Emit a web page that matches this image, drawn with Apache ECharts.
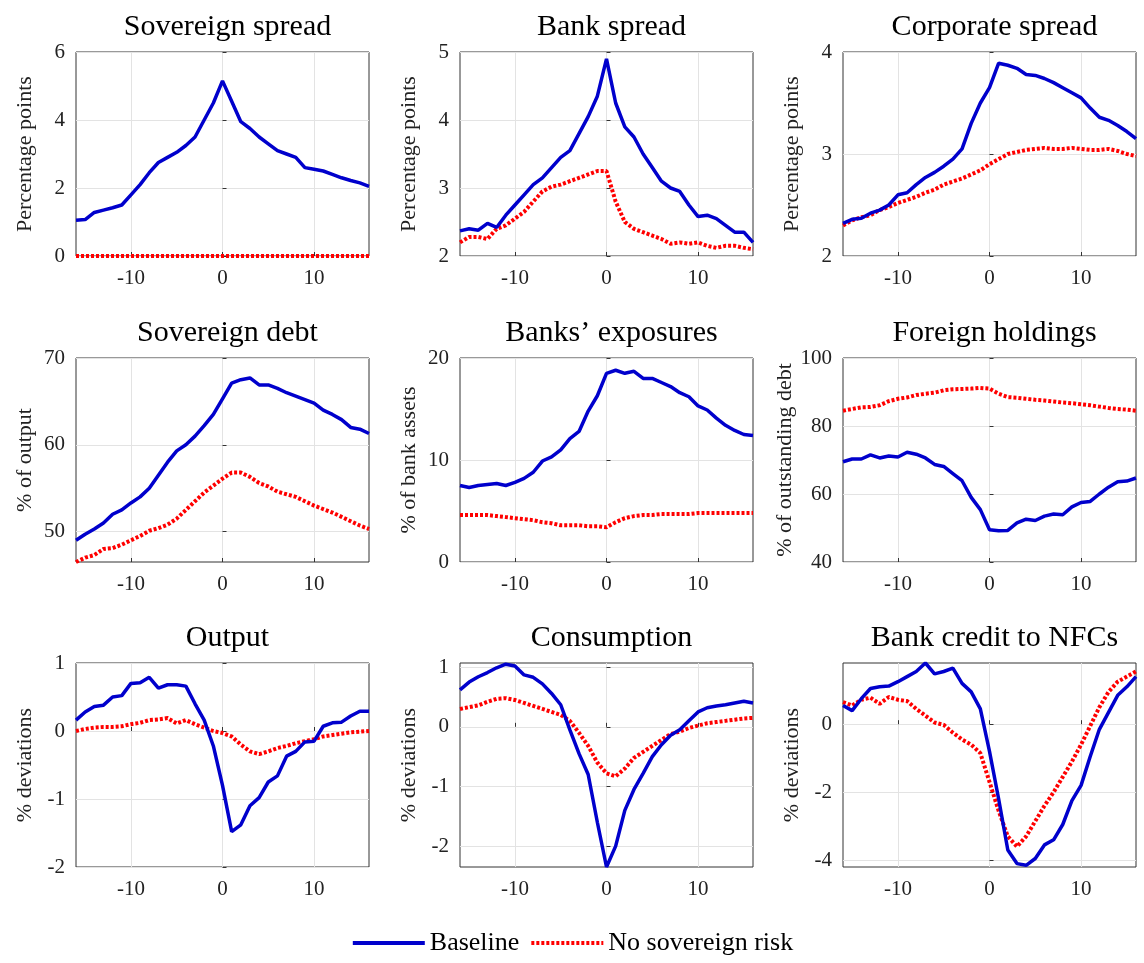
<!DOCTYPE html>
<html>
<head>
<meta charset="utf-8">
<script src="https://cdn.jsdelivr.net/npm/echarts@6/dist/echarts.min.js"></script>
<style>body{margin:0;padding:0;background:#fff}#main{width:1144px;height:963px}</style>
</head>
<body>
<div id="main"></div>
<script>
const horizon = [];
for (let t = -16; t <= 16; t++) horizon.push(t);

const titles = ['Sovereign spread', 'Bank spread', 'Corporate spread', 'Sovereign debt', 'Banks\u2019 exposures', 'Foreign holdings', 'Output', 'Consumption', 'Bank credit to NFCs'];
const yNames = ['Percentage points', 'Percentage points', 'Percentage points', '% of output', '% of bank assets', '% of outstanding debt', '% deviations', '% deviations', '% deviations'];
const yMin = [0, 2, 2, 46.5, 0, 40, -2, -2.35, -4.2];
const yMax = [6, 5, 4, 70, 20, 100, 1, 1.07, 1.8];
const yTicks = [[0,2,4,6],[2,3,4,5],[2,3,4],[50,60,70],[0,10,20],[40,60,80,100],[-2,-1,0,1],[-2,-1,0,1],[-4,-2,0]];
const xTicks = [-10, 0, 10];

const sovSpreadBase = [1.05,1.07,1.28,1.35,1.42,1.5,1.8,2.1,2.45,2.75,2.9,3.05,3.25,3.5,4.0,4.5,5.15,4.55,3.95,3.75,3.5,3.3,3.1,3.0,2.9,2.6,2.55,2.5,2.4,2.3,2.22,2.15,2.05];
const sovSpreadNoRisk = [0,0,0,0,0,0,0,0,0,0,0,0,0,0,0,0,0,0,0,0,0,0,0,0,0,0,0,0,0,0,0,0,0];
const bankSpreadBase = [2.37,2.4,2.38,2.48,2.42,2.6,2.75,2.9,3.05,3.15,3.3,3.45,3.55,3.8,4.05,4.35,4.9,4.25,3.9,3.75,3.5,3.3,3.1,3.0,2.95,2.75,2.58,2.6,2.55,2.45,2.35,2.35,2.2];
const bankSpreadNoRisk = [2.2,2.28,2.28,2.25,2.4,2.45,2.55,2.65,2.8,2.95,3.02,3.05,3.1,3.15,3.2,3.25,3.25,2.8,2.5,2.4,2.35,2.3,2.25,2.18,2.2,2.18,2.2,2.15,2.12,2.15,2.15,2.12,2.1];
const corpSpreadBase = [2.32,2.36,2.37,2.42,2.45,2.5,2.6,2.62,2.7,2.77,2.82,2.88,2.95,3.05,3.3,3.5,3.65,3.89,3.87,3.84,3.78,3.77,3.74,3.7,3.65,3.6,3.55,3.45,3.36,3.33,3.28,3.22,3.15];
const corpSpreadNoRisk = [2.3,2.35,2.38,2.4,2.45,2.48,2.52,2.55,2.58,2.62,2.65,2.7,2.73,2.76,2.8,2.84,2.9,2.95,3.0,3.02,3.04,3.05,3.06,3.05,3.05,3.06,3.05,3.04,3.04,3.05,3.03,3.0,2.98];
const sovDebtBase = [49,49.7,50.3,51,52,52.5,53.3,54,55,56.5,58,59.3,60,61,62.2,63.5,65.3,67.1,67.5,67.7,66.9,66.9,66.5,66,65.6,65.2,64.8,64,63.5,62.9,62,61.8,61.3];
const sovDebtNoRisk = [46.5,47,47.3,48,48.1,48.5,49,49.5,50.1,50.4,50.8,51.5,52.5,53.5,54.5,55.3,56.1,56.8,56.8,56.3,55.6,55.2,54.6,54.3,54,53.5,53,52.6,52.2,51.7,51.2,50.7,50.3];
const exposuresBase = [7.5,7.3,7.5,7.6,7.7,7.5,7.8,8.2,8.8,9.9,10.3,11,12.1,12.8,14.8,16.3,18.5,18.8,18.5,18.7,18.0,18.0,17.6,17.2,16.6,16.2,15.3,14.9,14.1,13.4,12.9,12.5,12.4];
const exposuresNoRisk = [4.6,4.6,4.6,4.6,4.5,4.4,4.3,4.2,4.1,3.9,3.8,3.6,3.6,3.6,3.5,3.5,3.4,3.9,4.3,4.5,4.6,4.6,4.7,4.7,4.7,4.7,4.8,4.8,4.8,4.8,4.8,4.8,4.8];
const foreignBase = [69.5,70.3,70.3,71.5,70.6,71.2,70.9,72.3,71.7,70.6,68.7,68.1,66,63.9,59,55.4,49.5,49.2,49.3,51.5,52.6,52.2,53.5,54.1,53.9,56.2,57.5,57.8,60,62,63.6,63.8,64.7];
const foreignNoRisk = [84.5,85,85.5,85.6,86.1,87.3,88,88.4,89.1,89.5,89.8,90.5,90.8,90.9,91,91.2,91,89.5,88.5,88.3,88,87.7,87.5,87.2,86.9,86.7,86.4,86.1,85.7,85.3,85,84.8,84.5];
const outputBase = [0.16,0.28,0.36,0.38,0.5,0.52,0.7,0.71,0.79,0.63,0.68,0.68,0.66,0.4,0.16,-0.22,-0.8,-1.48,-1.38,-1.1,-0.98,-0.75,-0.66,-0.37,-0.3,-0.16,-0.15,0.07,0.12,0.13,0.22,0.29,0.29];
const outputNoRisk = [0,0.03,0.05,0.06,0.06,0.07,0.1,0.12,0.16,0.17,0.19,0.11,0.16,0.1,0.05,0,-0.03,-0.08,-0.2,-0.3,-0.34,-0.3,-0.25,-0.22,-0.18,-0.15,-0.12,-0.08,-0.06,-0.04,-0.02,-0.01,0];
const consBase = [0.62,0.75,0.84,0.91,0.99,1.05,1.02,0.87,0.83,0.72,0.56,0.37,-0.05,-0.45,-0.8,-1.6,-2.35,-2.0,-1.4,-1.05,-0.78,-0.5,-0.3,-0.14,-0.05,0.1,0.25,0.32,0.35,0.37,0.4,0.43,0.4];
const consNoRisk = [0.3,0.33,0.36,0.42,0.47,0.48,0.45,0.4,0.35,0.3,0.25,0.2,0.1,-0.1,-0.32,-0.6,-0.78,-0.83,-0.7,-0.52,-0.42,-0.32,-0.22,-0.12,-0.08,-0.02,0.02,0.06,0.08,0.1,0.12,0.14,0.15];
const creditBase = [0.55,0.4,0.75,1.05,1.1,1.12,1.25,1.4,1.55,1.8,1.48,1.55,1.65,1.2,0.95,0.45,-0.8,-2.2,-3.7,-4.1,-4.15,-3.95,-3.55,-3.4,-2.95,-2.25,-1.8,-0.95,-0.15,0.35,0.85,1.1,1.4];
const creditNoRisk = [0.65,0.55,0.72,0.78,0.6,0.8,0.72,0.68,0.45,0.25,0.05,-0.02,-0.25,-0.45,-0.6,-0.85,-1.7,-2.55,-3.3,-3.6,-3.3,-2.85,-2.4,-2.0,-1.55,-1.1,-0.6,-0.05,0.5,0.95,1.25,1.4,1.55];

const baseline = [sovSpreadBase, bankSpreadBase, corpSpreadBase, sovDebtBase, exposuresBase, foreignBase, outputBase, consBase, creditBase];
const noRisk = [sovSpreadNoRisk, bankSpreadNoRisk, corpSpreadNoRisk, sovDebtNoRisk, exposuresNoRisk, foreignNoRisk, outputNoRisk, consNoRisk, creditNoRisk];

const font = '"Liberation Serif", "DejaVu Serif", serif';
const colLeft = [76, 460, 843], plotW = 293;
const rowTop = [52, 358, 663], plotH = 204;

const grid = [], xAxis = [], yAxis = [], series = [], title = [];
titles.forEach((name, i) => {
  const c = i % 3, r = Math.floor(i / 3);
  grid.push({left: colLeft[c], top: rowTop[r], width: plotW, height: plotH,
    show: true, borderColor: '#333', borderWidth: 1});
  title.push({text: name, left: colLeft[c] + plotW / 2, top: rowTop[r] - 45, textAlign: 'center',
    textStyle: {fontFamily: font, fontSize: 30, fontWeight: 'normal', color: '#000'}});
  xAxis.push({type: 'value', gridIndex: i, min: -16, max: 16,
    axisLine: {show: false},
    axisTick: {show: true, inside: true, length: 4, customValues: xTicks, lineStyle: {color: '#333'}},
    axisLabel: {customValues: xTicks, fontFamily: font, fontSize: 21, color: '#222', margin: 12},
    splitLine: {show: true, lineStyle: {color: '#e3e3e3'}}});
  yAxis.push({type: 'value', gridIndex: i, min: yMin[i], max: yMax[i],
    name: yNames[i], nameLocation: 'middle', nameGap: 40,
    nameTextStyle: {fontFamily: font, fontSize: 22, color: '#222'},
    axisLine: {show: false},
    axisTick: {show: true, inside: true, length: 4, customValues: yTicks[i], lineStyle: {color: '#333'}},
    axisLabel: {customValues: yTicks[i], fontFamily: font, fontSize: 21, color: '#222', margin: 11},
    splitLine: {show: true, lineStyle: {color: '#e3e3e3'}}});
  series.push({name: 'Baseline', type: 'line', xAxisIndex: i, yAxisIndex: i, symbol: 'none',
    data: horizon.map((t, k) => [t, baseline[i][k]]),
    lineStyle: {color: '#0000cc', width: 3.5}, itemStyle: {color: '#0000cc'}, z: 3});
  series.push({name: 'No sovereign risk', type: 'line', xAxisIndex: i, yAxisIndex: i, symbol: 'none',
    data: horizon.map((t, k) => [t, noRisk[i][k]]),
    lineStyle: {color: '#ff0000', width: 4, type: [3, 2]}, itemStyle: {color: '#ff0000'}, z: 2});
});

const chart = echarts.init(document.getElementById('main'));
chart.setOption({
  animation: false,
  title, grid, xAxis, yAxis, series,
  legend: {bottom: 2, left: 'center', itemWidth: 72, itemHeight: 14, itemGap: 10,
    data: ['Baseline', 'No sovereign risk'],
    itemStyle: {opacity: 0},
    lineStyle: {width: 4},
    textStyle: {fontFamily: font, fontSize: 26, color: '#000'}}
});
</script>
</body>
</html>
